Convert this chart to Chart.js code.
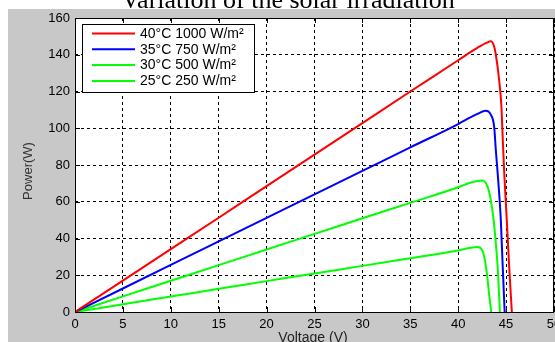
<!DOCTYPE html>
<html>
<head>
<meta charset="utf-8">
<script src="https://cdn.jsdelivr.net/npm/chart.js@4/dist/chart.umd.min.js"></script>
<style>
  html, body { margin: 0; padding: 0; background: #ffffff; }
  #wrap { position: relative; width: 555px; height: 342px; }
</style>
</head>
<body>
<div id="wrap"><canvas id="pv" width="555" height="342"></canvas></div>
<script>
// P-V curves of a PV module for four temperature / irradiance conditions
const chartTitle = 'Variation of the solar irradiation';
const xTitle = 'Voltage (V)';
const yTitle = 'Power(W)';

const seriesLabels = ['40°C 1000 W/m²', '35°C 750 W/m²', '30°C 500 W/m²', '25°C 250 W/m²'];
const seriesColors = ['#ff0000', '#0000ff', '#00ff00', '#00ff00'];

const voltage1000 = [0, 5, 10, 15, 20, 25, 30, 35, 40, 41.15, 42, 43, 43.41, 43.75, 43.93, 44.27, 44.51, 44.61, 44.79, 45.07, 45.31, 45.6];
const power1000   = [0, 17.1, 34.2, 51.3, 68.5, 85.6, 102.8, 120.0, 137.0, 141.0, 143.8, 146.6, 147.3, 144.5, 140.0, 126.4, 112.0, 99.2, 77.4, 50.2, 25.7, 0];

const voltage750 = [0, 5, 10, 15, 20, 25, 30, 35, 40, 41.15, 42, 42.88, 43.4, 43.75, 43.93, 44.2, 44.45, 44.62, 44.85];
const power750   = [0, 12.8, 25.6, 38.4, 51.2, 64.0, 76.8, 89.6, 102.3, 105.6, 107.8, 109.5, 107.4, 101.0, 88.0, 70.0, 50.0, 28.0, 0];

const voltage500 = [0, 5, 10, 15, 20, 25, 30, 35, 40, 41.15, 42, 42.53, 43.05, 43.4, 43.7, 43.95, 44.15, 44.35];
const power500   = [0, 8.5, 17.0, 25.5, 34.0, 42.5, 51.0, 59.4, 67.9, 70.2, 71.3, 71.6, 68.4, 61.0, 50.0, 36.0, 22.0, 0];

const voltage250 = [0, 5, 10, 15, 20, 25, 30, 35, 40, 41.15, 42.01, 42.53, 42.81, 43.05, 43.23, 43.45];
const power250   = [0, 4.2, 8.4, 12.6, 16.8, 21.0, 25.1, 29.3, 33.5, 34.8, 35.4, 33.4, 27.5, 18.5, 9.4, 0];

const voltageTicks = [0, 5, 10, 15, 20, 25, 30, 35, 40, 45, 50];
const powerTicks = [0, 20, 40, 60, 80, 100, 120, 140, 160];

const seriesVoltage = [voltage1000, voltage750, voltage500, voltage250];
const seriesPower = [power1000, power750, power500, power250];

const datasets = seriesLabels.map((label, i) => ({
  label,
  data: seriesVoltage[i].map((v, k) => ({ x: v, y: seriesPower[i][k] })),
  borderColor: seriesColors[i],
  backgroundColor: seriesColors[i],
  borderWidth: 2,
  pointRadius: 0,
  showLine: true,
  cubicInterpolationMode: 'monotone',
  fill: false
}));

const FONT = '"Liberation Sans", Arial, sans-serif';

// figure background, axes frame, inward ticks, legend and titles
const figurePlugin = {
  id: 'figure',
  beforeDraw(chart) {
    const { ctx, chartArea: a } = chart;
    ctx.save();
    ctx.fillStyle = '#ffffff';
    ctx.fillRect(0, 0, chart.width, chart.height);
    ctx.fillStyle = 'rgb(200,200,200)';
    ctx.fillRect(8, 9, chart.width - 8, chart.height - 9);
    ctx.fillStyle = '#ffffff';
    ctx.fillRect(a.left, a.top, a.right - a.left, a.bottom - a.top);
    ctx.restore();
  },
  afterDatasetsDraw(chart) {
    const { ctx, chartArea: a, scales } = chart;
    ctx.save();
    ctx.strokeStyle = '#000';
    ctx.lineWidth = 1;
    // inward tick marks
    ctx.beginPath();
    voltageTicks.forEach(v => {
      const x = Math.round(scales.x.getPixelForValue(v)) + 0.5;
      ctx.moveTo(x, a.bottom); ctx.lineTo(x, a.bottom - 5);
      ctx.moveTo(x, a.top); ctx.lineTo(x, a.top + 5);
    });
    powerTicks.forEach(p => {
      const y = Math.round(scales.y.getPixelForValue(p)) + 0.5;
      ctx.moveTo(a.left, y); ctx.lineTo(a.left + 5, y);
      ctx.moveTo(a.right, y); ctx.lineTo(a.right - 5, y);
    });
    ctx.stroke();
    // axes box
    ctx.strokeRect(Math.round(a.left) + 0.5, Math.round(a.top) + 0.5,
                   Math.round(a.right - a.left) - 1, Math.round(a.bottom - a.top));

    // legend
    const lx = 82.5, ly = 24.5, lw = 172, lh = 68;
    ctx.fillStyle = '#ffffff';
    ctx.fillRect(lx, ly, lw, lh);
    ctx.strokeStyle = '#000';
    ctx.strokeRect(lx, ly, lw, lh);
    ctx.font = '14px ' + FONT;
    ctx.textBaseline = 'middle';
    ctx.textAlign = 'left';
    chart.data.datasets.forEach((ds, i) => {
      const y = 33.5 + i * 15.8;
      ctx.strokeStyle = ds.borderColor;
      ctx.lineWidth = 2;
      ctx.beginPath();
      ctx.moveTo(92, y); ctx.lineTo(135, y);
      ctx.stroke();
      ctx.fillStyle = '#000';
      ctx.fillText(ds.label, 140, y + 0.5);
    });

    // axis titles
    ctx.fillStyle = '#333';
    ctx.font = '13px ' + FONT;
    ctx.textAlign = 'center';
    ctx.textBaseline = 'alphabetic';
    ctx.save();
    ctx.translate(32, 171);
    ctx.rotate(-Math.PI / 2);
    ctx.fillText(yTitle, 0, 0);
    ctx.restore();
    ctx.font = '14px ' + FONT;
    ctx.fillStyle = '#222';
    ctx.fillText(xTitle, 313, 342);

    // figure title
    ctx.fillStyle = '#000';
    ctx.font = '26px "Liberation Serif", "Times New Roman", serif';
    ctx.fillText(chartTitle, 288, 7.5);
    ctx.restore();
  }
};

new Chart(document.getElementById('pv'), {
  type: 'scatter',
  data: { datasets },
  plugins: [figurePlugin],
  options: {
    responsive: false,
    animation: false,
    events: [],
    layout: { padding: { top: 18, left: 0, right: 1, bottom: 0 } },
    plugins: { legend: { display: false }, tooltip: { enabled: false }, title: { display: false } },
    scales: {
      x: {
        type: 'linear',
        min: 0, max: 50,
        afterBuildTicks: s => { s.ticks = voltageTicks.map(v => ({ value: v })); },
        afterFit: s => { s.height = 30; s.paddingLeft = 0; s.paddingRight = 0; },
        grid: { color: '#000', lineWidth: 1, drawTicks: false },
        border: { display: false, dash: [3, 3] },
        ticks: { color: '#000', padding: 5, maxRotation: 0, autoSkip: false,
                 font: { family: FONT, size: 13 } }
      },
      y: {
        type: 'linear',
        min: 0, max: 160,
        afterBuildTicks: s => { s.ticks = powerTicks.map(v => ({ value: v })); },
        afterFit: s => { s.width = 75; s.paddingTop = 0; s.paddingBottom = 0; },
        grid: { color: '#000', lineWidth: 1, drawTicks: false },
        border: { display: false, dash: [3, 3] },
        ticks: { color: '#000', padding: 5, autoSkip: false,
                 font: { family: FONT, size: 13 } }
      }
    }
  }
});
</script>
</body>
</html>
